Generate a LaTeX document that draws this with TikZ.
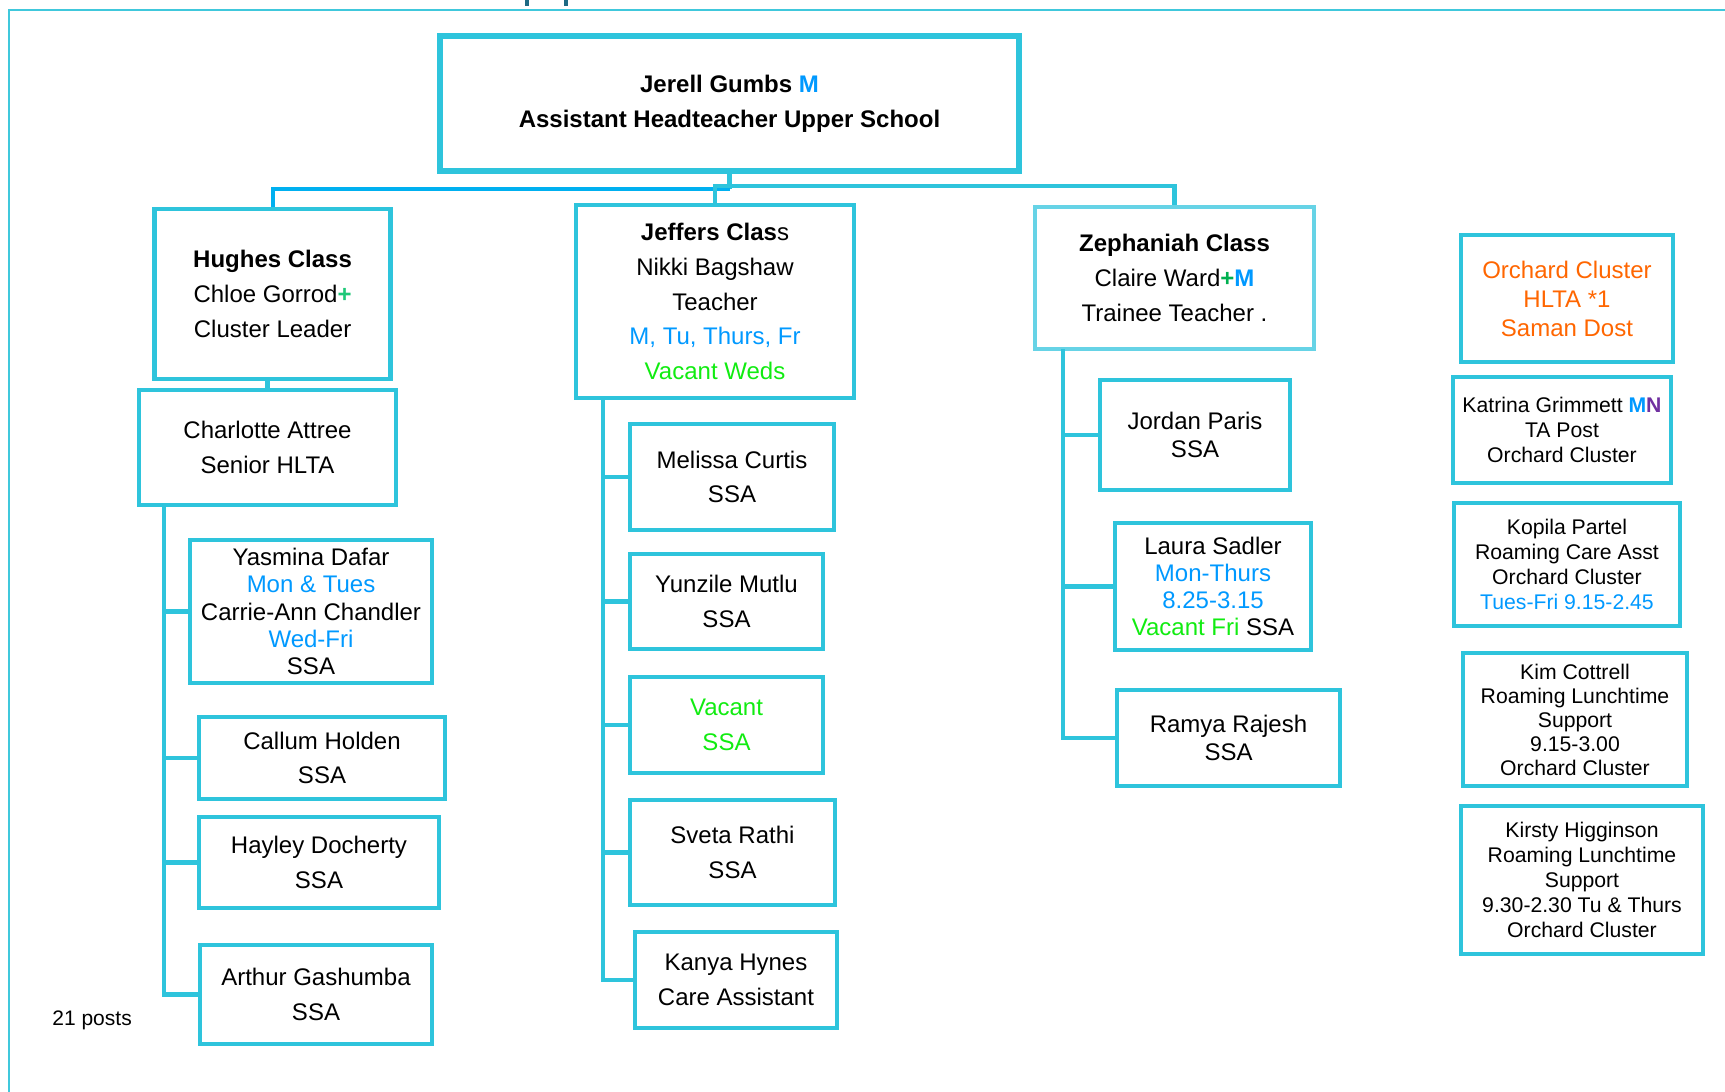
\documentclass[tikz,border=0pt]{standalone}
\usepackage{fontspec}
\setmainfont{Liberation Sans}
\definecolor{boxc}{RGB}{46,196,220}
\definecolor{boxl}{RGB}{102,211,230}
\definecolor{linkb}{RGB}{0,176,240}
\definecolor{framec}{RGB}{64,200,220}
\definecolor{dayblue}{RGB}{0,153,255}
\definecolor{vacgreen}{RGB}{17,236,17}
\definecolor{plusgreen}{RGB}{30,200,120}
\definecolor{clairegreen}{RGB}{0,176,80}
\definecolor{orangec}{RGB}{255,102,0}
\definecolor{purplec}{RGB}{112,48,160}
\definecolor{titleteal}{RGB}{29,106,132}
\newcommand\mainfs{\fontsize{12}{17.3}\selectfont}
\newcommand\tightfs{\fontsize{12}{13.6}\selectfont}
\newcommand\orchfs{\fontsize{12}{14.5}\selectfont}
\newcommand\smallfs{\fontsize{10.6}{12.5}\selectfont}
\newcommand\kimfs{\fontsize{10.6}{12}\selectfont}
\tikzset{
  orgbox/.style={draw=boxc, line width=2.2pt, fill=white, align=center, inner sep=0pt, text=black, font=\mainfs},
  tightbox/.style={orgbox, font=\tightfs},
  sidebox/.style={orgbox, font=\smallfs},
  conn/.style={draw=boxc, line width=2.1pt},
}
\begin{document}
\begin{tikzpicture}[x=0.5pt,y=-0.5pt]
\useasboundingbox (0,0) rectangle (1725,1092);
\fill[white] (0,0) rectangle (1725,1092);
\draw[framec, line width=1pt] (9,1092) -- (9,10) -- (1725,10);
\draw[titleteal, line width=2pt] (527,0) -- (527,6) (566,0) -- (566,6);

% top
\node[orgbox, line width=2.6pt, minimum width=289.5pt, minimum height=67.5pt, font={\mainfs\bfseries}] (top) at (729.5,103.5)
  {Jerell Gumbs \textcolor{dayblue}{M}\\Assistant Headteacher Upper School};

% Hughes column
\node[orgbox, minimum width=118pt, minimum height=85pt] (hughes) at (272.6,294)
  {\textbf{Hughes Class}\\Chloe Gorrod\textcolor{plusgreen}{\textbf{+}}\\Cluster Leader};
\node[orgbox, minimum width=128.5pt, minimum height=57.5pt] (charlotte) at (267.5,447.5)
  {Charlotte Attree\\Senior HLTA};
\node[tightbox, minimum width=121pt, minimum height=71.5pt] (yasmina) at (311,611.5)
  {Yasmina Dafar\\\textcolor{dayblue}{Mon \& Tues}\\Carrie-Ann Chandler\\\textcolor{dayblue}{Wed-Fri}\\SSA};
\node[orgbox, minimum width=123pt, minimum height=41pt] (callum) at (322,758) {Callum Holden\\SSA};
\node[orgbox, minimum width=120pt, minimum height=45.5pt] (hayley) at (319,862.5) {Hayley Docherty\\SSA};
\node[orgbox, minimum width=116pt, minimum height=49.5pt] (arthur) at (316,994.5) {Arthur Gashumba\\SSA};

% Jeffers column
\node[orgbox, minimum width=139pt, minimum height=96.5pt] (jeffers) at (715,301.5)
  {\textbf{Jeffers Clas}s\\Nikki Bagshaw\\Teacher\\\textcolor{dayblue}{M, Tu, Thurs, Fr}\\\textcolor{vacgreen}{Vacant Weds}};
\node[orgbox, minimum width=102pt, minimum height=53pt] (melissa) at (732,477) {Melissa Curtis\\SSA};
\node[orgbox, minimum width=96.5pt, minimum height=47.5pt] (yunzile) at (726.5,601.5) {Yunzile Mutlu\\SSA};
\node[orgbox, minimum width=96.5pt, minimum height=48pt, text=vacgreen] (vacant) at (726.5,725) {Vacant\\SSA};
\node[orgbox, minimum width=102.5pt, minimum height=52.5pt] (sveta) at (732.5,852.5) {Sveta Rathi\\SSA};
\node[orgbox, minimum width=101pt, minimum height=48pt] (kanya) at (736,980) {Kanya Hynes\\Care Assistant};

% Zephaniah column
\node[orgbox, draw=boxl, line width=2pt, minimum width=139.5pt, minimum height=71pt] (zeph) at (1174.5,278)
  {\textbf{Zephaniah Class}\\Claire Ward\textbf{\textcolor{clairegreen}{+}\textcolor{dayblue}{M}}\\Trainee Teacher .};
\node[tightbox, minimum width=95pt, minimum height=55pt] (jordan) at (1195,435) {Jordan Paris\\SSA};
\node[tightbox, minimum width=98pt, minimum height=63.5pt] (laura) at (1213,586.5)
  {Laura Sadler\\\textcolor{dayblue}{Mon-Thurs}\\\textcolor{dayblue}{8.25-3.15}\\\textcolor{vacgreen}{Vacant Fri} SSA};
\node[tightbox, minimum width=111.5pt, minimum height=48pt] (ramya) at (1228.5,738) {Ramya Rajesh\\SSA};

% right column
\node[orgbox, font=\orchfs, text=orangec, minimum width=106pt, minimum height=63.5pt] (orchard) at (1567,298.5)
  {Orchard Cluster\\HLTA *1\\Saman Dost};
\node[sidebox, minimum width=109pt, minimum height=53pt] (katrina) at (1562,430)
  {Katrina Grimmett \textbf{\textcolor{dayblue}{M}\textcolor{purplec}{N}}\\TA Post\\Orchard Cluster};
\node[sidebox, minimum width=113pt, minimum height=61.5pt] (kopila) at (1567,564.5)
  {Kopila Partel\\Roaming Care Asst\\Orchard Cluster\\\textcolor{dayblue}{Tues-Fri 9.15-2.45}};
\node[sidebox, font=\kimfs, minimum width=112pt, minimum height=66.5pt] (kim) at (1575,719.5)
  {Kim Cottrell\\Roaming Lunchtime\\Support\\9.15-3.00\\Orchard Cluster};
\node[sidebox, minimum width=121pt, minimum height=74pt] (kirsty) at (1582,880)
  {Kirsty Higginson\\Roaming Lunchtime\\Support\\9.30-2.30 Tu \& Thurs\\Orchard Cluster};

\node[anchor=base west, inner sep=0pt, font=\fontsize{10.5}{12}\selectfont] (posts) at (52,1025) {21 posts};

% connectors
\coordinate (jL) at (729.5,189);
\coordinate (jR) at (1174.5,186);
\draw[conn] (top.south) -- (jL);
\draw[conn, draw=linkb] (jL) -| (hughes.north);
\draw[conn] (jeffers.north) |- (jR) -- (zeph.north);
\draw[conn] (charlotte.north) -- (charlotte.north |- hughes.south);

\coordinate (hb) at (164,505);
\draw[conn] (hb) |- (arthur.west);
\foreach \n in {yasmina,callum,hayley} \draw[conn] (hb |- \n.west) -- (\n.west);

\coordinate (jb) at (603,398);
\draw[conn] (jb) |- (kanya.west);
\foreach \n in {melissa,yunzile,vacant,sveta} \draw[conn] (jb |- \n.west) -- (\n.west);

\coordinate (zb) at (1063,349);
\draw[conn] (zb) |- (ramya.west);
\foreach \n in {jordan,laura} \draw[conn] (zb |- \n.west) -- (\n.west);
\end{tikzpicture}
\end{document}
